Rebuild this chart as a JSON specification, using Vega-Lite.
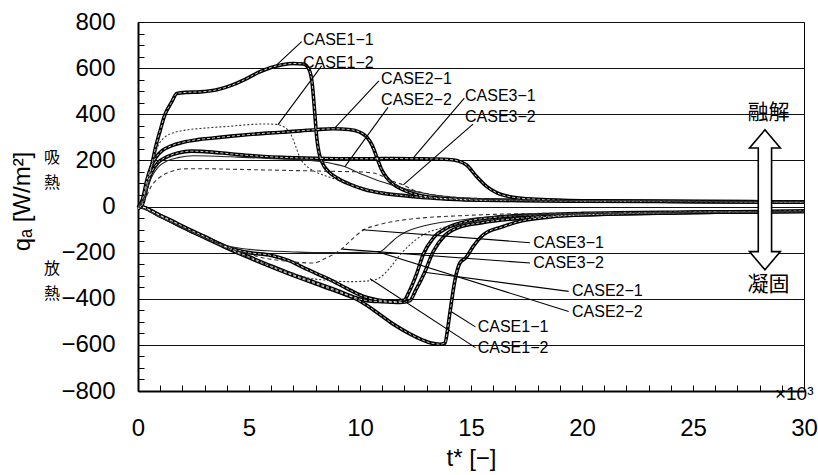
{
  "$schema": "https://vega.github.io/schema/vega-lite/v6.json",
  "width": 666,
  "height": 369,
  "autosize": "none",
  "padding": {"left": 138, "top": 22, "right": 14, "bottom": 84},
  "background": "white",
  "config": {"view": {"stroke": "black", "strokeWidth": 1}, "font": "Liberation Sans"},
  "datasets": {
    "curves": [
      {"case":"CASE1-1","phase":"melt","t":0,"q":-10},{"case":"CASE1-1","phase":"melt","t":0.2,"q":10},{"case":"CASE1-1","phase":"melt","t":0.4,"q":85},{"case":"CASE1-1","phase":"melt","t":0.6,"q":170},{"case":"CASE1-1","phase":"melt","t":0.8,"q":260},{"case":"CASE1-1","phase":"melt","t":1.0,"q":330},{"case":"CASE1-1","phase":"melt","t":1.2,"q":395},{"case":"CASE1-1","phase":"melt","t":1.5,"q":450},{"case":"CASE1-1","phase":"melt","t":1.75,"q":490},{"case":"CASE1-1","phase":"melt","t":2.2,"q":495},{"case":"CASE1-1","phase":"melt","t":2.8,"q":497},{"case":"CASE1-1","phase":"melt","t":3.5,"q":505},{"case":"CASE1-1","phase":"melt","t":4.2,"q":525},{"case":"CASE1-1","phase":"melt","t":4.8,"q":550},{"case":"CASE1-1","phase":"melt","t":5.4,"q":580},{"case":"CASE1-1","phase":"melt","t":6.0,"q":603},{"case":"CASE1-1","phase":"melt","t":6.5,"q":615},{"case":"CASE1-1","phase":"melt","t":7.0,"q":620},{"case":"CASE1-1","phase":"melt","t":7.45,"q":618},{"case":"CASE1-1","phase":"melt","t":7.7,"q":595},{"case":"CASE1-1","phase":"melt","t":7.85,"q":530},{"case":"CASE1-1","phase":"melt","t":7.95,"q":420},{"case":"CASE1-1","phase":"melt","t":8.05,"q":300},{"case":"CASE1-1","phase":"melt","t":8.15,"q":235},{"case":"CASE1-1","phase":"melt","t":8.3,"q":190},{"case":"CASE1-1","phase":"melt","t":8.6,"q":150},{"case":"CASE1-1","phase":"melt","t":9.0,"q":122},{"case":"CASE1-1","phase":"melt","t":9.5,"q":98},{"case":"CASE1-1","phase":"melt","t":10.2,"q":74},{"case":"CASE1-1","phase":"melt","t":11,"q":58},{"case":"CASE1-1","phase":"melt","t":12,"q":47},{"case":"CASE1-1","phase":"melt","t":13,"q":38},{"case":"CASE1-1","phase":"melt","t":14,"q":32},{"case":"CASE1-1","phase":"melt","t":15,"q":28},{"case":"CASE1-1","phase":"melt","t":17,"q":26},{"case":"CASE1-1","phase":"melt","t":20,"q":23},{"case":"CASE1-1","phase":"melt","t":25,"q":21},{"case":"CASE1-1","phase":"melt","t":30,"q":19},

      {"case":"CASE1-2","phase":"melt","t":0,"q":0},{"case":"CASE1-2","phase":"melt","t":0.3,"q":40},{"case":"CASE1-2","phase":"melt","t":0.5,"q":120},{"case":"CASE1-2","phase":"melt","t":0.7,"q":205},{"case":"CASE1-2","phase":"melt","t":0.9,"q":262},{"case":"CASE1-2","phase":"melt","t":1.2,"q":300},{"case":"CASE1-2","phase":"melt","t":1.6,"q":320},{"case":"CASE1-2","phase":"melt","t":2.2,"q":332},{"case":"CASE1-2","phase":"melt","t":3,"q":340},{"case":"CASE1-2","phase":"melt","t":4,"q":347},{"case":"CASE1-2","phase":"melt","t":5,"q":355},{"case":"CASE1-2","phase":"melt","t":5.6,"q":358},{"case":"CASE1-2","phase":"melt","t":6.2,"q":356},{"case":"CASE1-2","phase":"melt","t":6.6,"q":344},{"case":"CASE1-2","phase":"melt","t":6.9,"q":310},{"case":"CASE1-2","phase":"melt","t":7.1,"q":262},{"case":"CASE1-2","phase":"melt","t":7.3,"q":210},{"case":"CASE1-2","phase":"melt","t":7.6,"q":175},{"case":"CASE1-2","phase":"melt","t":8,"q":150},{"case":"CASE1-2","phase":"melt","t":8.6,"q":128},{"case":"CASE1-2","phase":"melt","t":9.4,"q":103},{"case":"CASE1-2","phase":"melt","t":10.2,"q":80},{"case":"CASE1-2","phase":"melt","t":11,"q":62},{"case":"CASE1-2","phase":"melt","t":12,"q":48},{"case":"CASE1-2","phase":"melt","t":13,"q":38},{"case":"CASE1-2","phase":"melt","t":14,"q":32},{"case":"CASE1-2","phase":"melt","t":16,"q":27},{"case":"CASE1-2","phase":"melt","t":20,"q":23},{"case":"CASE1-2","phase":"melt","t":25,"q":21},{"case":"CASE1-2","phase":"melt","t":30,"q":20},

      {"case":"CASE2-1","phase":"melt","t":0,"q":-5},{"case":"CASE2-1","phase":"melt","t":0.2,"q":30},{"case":"CASE2-1","phase":"melt","t":0.4,"q":115},{"case":"CASE2-1","phase":"melt","t":0.6,"q":175},{"case":"CASE2-1","phase":"melt","t":0.8,"q":212},{"case":"CASE2-1","phase":"melt","t":1.1,"q":243},{"case":"CASE2-1","phase":"melt","t":1.5,"q":263},{"case":"CASE2-1","phase":"melt","t":2,"q":278},{"case":"CASE2-1","phase":"melt","t":2.7,"q":290},{"case":"CASE2-1","phase":"melt","t":3.4,"q":297},{"case":"CASE2-1","phase":"melt","t":4.2,"q":305},{"case":"CASE2-1","phase":"melt","t":5,"q":312},{"case":"CASE2-1","phase":"melt","t":5.8,"q":318},{"case":"CASE2-1","phase":"melt","t":6.5,"q":322},{"case":"CASE2-1","phase":"melt","t":7.3,"q":328},{"case":"CASE2-1","phase":"melt","t":8,"q":333},{"case":"CASE2-1","phase":"melt","t":8.8,"q":337},{"case":"CASE2-1","phase":"melt","t":9.5,"q":334},{"case":"CASE2-1","phase":"melt","t":10,"q":322},{"case":"CASE2-1","phase":"melt","t":10.3,"q":302},{"case":"CASE2-1","phase":"melt","t":10.55,"q":265},{"case":"CASE2-1","phase":"melt","t":10.75,"q":215},{"case":"CASE2-1","phase":"melt","t":10.95,"q":165},{"case":"CASE2-1","phase":"melt","t":11.2,"q":125},{"case":"CASE2-1","phase":"melt","t":11.6,"q":90},{"case":"CASE2-1","phase":"melt","t":12,"q":70},{"case":"CASE2-1","phase":"melt","t":12.6,"q":50},{"case":"CASE2-1","phase":"melt","t":13.4,"q":38},{"case":"CASE2-1","phase":"melt","t":14.5,"q":32},{"case":"CASE2-1","phase":"melt","t":16,"q":28},{"case":"CASE2-1","phase":"melt","t":20,"q":24},{"case":"CASE2-1","phase":"melt","t":25,"q":22},{"case":"CASE2-1","phase":"melt","t":30,"q":20},

      {"case":"CASE2-2","phase":"melt","t":0,"q":0},{"case":"CASE2-2","phase":"melt","t":0.3,"q":45},{"case":"CASE2-2","phase":"melt","t":0.6,"q":125},{"case":"CASE2-2","phase":"melt","t":0.9,"q":170},{"case":"CASE2-2","phase":"melt","t":1.3,"q":197},{"case":"CASE2-2","phase":"melt","t":1.8,"q":212},{"case":"CASE2-2","phase":"melt","t":2.5,"q":220},{"case":"CASE2-2","phase":"melt","t":3.5,"q":218},{"case":"CASE2-2","phase":"melt","t":4.5,"q":214},{"case":"CASE2-2","phase":"melt","t":5.5,"q":210},{"case":"CASE2-2","phase":"melt","t":6.5,"q":206},{"case":"CASE2-2","phase":"melt","t":7.5,"q":202},{"case":"CASE2-2","phase":"melt","t":8.2,"q":195},{"case":"CASE2-2","phase":"melt","t":8.8,"q":185},{"case":"CASE2-2","phase":"melt","t":9.3,"q":173},{"case":"CASE2-2","phase":"melt","t":9.8,"q":152},{"case":"CASE2-2","phase":"melt","t":10.2,"q":135},{"case":"CASE2-2","phase":"melt","t":10.8,"q":113},{"case":"CASE2-2","phase":"melt","t":11.5,"q":92},{"case":"CASE2-2","phase":"melt","t":12.2,"q":72},{"case":"CASE2-2","phase":"melt","t":13,"q":55},{"case":"CASE2-2","phase":"melt","t":14,"q":42},{"case":"CASE2-2","phase":"melt","t":15,"q":34},{"case":"CASE2-2","phase":"melt","t":17,"q":28},{"case":"CASE2-2","phase":"melt","t":20,"q":25},{"case":"CASE2-2","phase":"melt","t":25,"q":23},{"case":"CASE2-2","phase":"melt","t":30,"q":21},

      {"case":"CASE3-1","phase":"melt","t":0,"q":-5},{"case":"CASE3-1","phase":"melt","t":0.2,"q":20},{"case":"CASE3-1","phase":"melt","t":0.4,"q":90},{"case":"CASE3-1","phase":"melt","t":0.6,"q":145},{"case":"CASE3-1","phase":"melt","t":0.9,"q":190},{"case":"CASE3-1","phase":"melt","t":1.3,"q":215},{"case":"CASE3-1","phase":"melt","t":1.8,"q":232},{"case":"CASE3-1","phase":"melt","t":2.4,"q":240},{"case":"CASE3-1","phase":"melt","t":3,"q":238},{"case":"CASE3-1","phase":"melt","t":3.8,"q":232},{"case":"CASE3-1","phase":"melt","t":4.5,"q":225},{"case":"CASE3-1","phase":"melt","t":5.5,"q":218},{"case":"CASE3-1","phase":"melt","t":6.5,"q":213},{"case":"CASE3-1","phase":"melt","t":7.5,"q":210},{"case":"CASE3-1","phase":"melt","t":8.5,"q":208},{"case":"CASE3-1","phase":"melt","t":9.5,"q":207},{"case":"CASE3-1","phase":"melt","t":10.5,"q":207},{"case":"CASE3-1","phase":"melt","t":11.5,"q":208},{"case":"CASE3-1","phase":"melt","t":12.5,"q":207},{"case":"CASE3-1","phase":"melt","t":13.3,"q":206},{"case":"CASE3-1","phase":"melt","t":14,"q":204},{"case":"CASE3-1","phase":"melt","t":14.4,"q":198},{"case":"CASE3-1","phase":"melt","t":14.8,"q":180},{"case":"CASE3-1","phase":"melt","t":15.25,"q":130},{"case":"CASE3-1","phase":"melt","t":15.7,"q":87},{"case":"CASE3-1","phase":"melt","t":16.15,"q":60},{"case":"CASE3-1","phase":"melt","t":16.9,"q":40},{"case":"CASE3-1","phase":"melt","t":18,"q":31},{"case":"CASE3-1","phase":"melt","t":20,"q":25},{"case":"CASE3-1","phase":"melt","t":25,"q":22},{"case":"CASE3-1","phase":"melt","t":30,"q":20},

      {"case":"CASE3-2","phase":"melt","t":0,"q":0},{"case":"CASE3-2","phase":"melt","t":0.3,"q":30},{"case":"CASE3-2","phase":"melt","t":0.6,"q":88},{"case":"CASE3-2","phase":"melt","t":1,"q":128},{"case":"CASE3-2","phase":"melt","t":1.5,"q":152},{"case":"CASE3-2","phase":"melt","t":2,"q":163},{"case":"CASE3-2","phase":"melt","t":3,"q":164},{"case":"CASE3-2","phase":"melt","t":4,"q":162},{"case":"CASE3-2","phase":"melt","t":5,"q":160},{"case":"CASE3-2","phase":"melt","t":6,"q":158},{"case":"CASE3-2","phase":"melt","t":7,"q":156},{"case":"CASE3-2","phase":"melt","t":8,"q":154},{"case":"CASE3-2","phase":"melt","t":9,"q":152},{"case":"CASE3-2","phase":"melt","t":10,"q":150},{"case":"CASE3-2","phase":"melt","t":10.6,"q":145},{"case":"CASE3-2","phase":"melt","t":11,"q":132},{"case":"CASE3-2","phase":"melt","t":11.4,"q":112},{"case":"CASE3-2","phase":"melt","t":11.9,"q":95},{"case":"CASE3-2","phase":"melt","t":12.4,"q":72},{"case":"CASE3-2","phase":"melt","t":13,"q":56},{"case":"CASE3-2","phase":"melt","t":14,"q":43},{"case":"CASE3-2","phase":"melt","t":15.5,"q":34},{"case":"CASE3-2","phase":"melt","t":18,"q":28},{"case":"CASE3-2","phase":"melt","t":22,"q":24},{"case":"CASE3-2","phase":"melt","t":30,"q":22},

      {"case":"CASE1-1","phase":"freeze","t":0,"q":0},{"case":"CASE1-1","phase":"freeze","t":0.3,"q":-5},{"case":"CASE1-1","phase":"freeze","t":0.6,"q":-20},{"case":"CASE1-1","phase":"freeze","t":1,"q":-40},{"case":"CASE1-1","phase":"freeze","t":1.5,"q":-65},{"case":"CASE1-1","phase":"freeze","t":2,"q":-90},{"case":"CASE1-1","phase":"freeze","t":3,"q":-135},{"case":"CASE1-1","phase":"freeze","t":4,"q":-180},{"case":"CASE1-1","phase":"freeze","t":5,"q":-222},{"case":"CASE1-1","phase":"freeze","t":6,"q":-262},{"case":"CASE1-1","phase":"freeze","t":7,"q":-300},{"case":"CASE1-1","phase":"freeze","t":8,"q":-335},{"case":"CASE1-1","phase":"freeze","t":9,"q":-370},{"case":"CASE1-1","phase":"freeze","t":9.8,"q":-400},{"case":"CASE1-1","phase":"freeze","t":10.3,"q":-428},{"case":"CASE1-1","phase":"freeze","t":10.8,"q":-462},{"case":"CASE1-1","phase":"freeze","t":11.5,"q":-510},{"case":"CASE1-1","phase":"freeze","t":12.2,"q":-550},{"case":"CASE1-1","phase":"freeze","t":12.8,"q":-578},{"case":"CASE1-1","phase":"freeze","t":13.2,"q":-592},{"case":"CASE1-1","phase":"freeze","t":13.6,"q":-597},{"case":"CASE1-1","phase":"freeze","t":13.83,"q":-592},{"case":"CASE1-1","phase":"freeze","t":13.95,"q":-530},{"case":"CASE1-1","phase":"freeze","t":14.05,"q":-461},{"case":"CASE1-1","phase":"freeze","t":14.28,"q":-318},{"case":"CASE1-1","phase":"freeze","t":14.5,"q":-245},{"case":"CASE1-1","phase":"freeze","t":14.77,"q":-222},{"case":"CASE1-1","phase":"freeze","t":15.1,"q":-173},{"case":"CASE1-1","phase":"freeze","t":15.55,"q":-123},{"case":"CASE1-1","phase":"freeze","t":16.45,"q":-87},{"case":"CASE1-1","phase":"freeze","t":17.3,"q":-62},{"case":"CASE1-1","phase":"freeze","t":18.5,"q":-46},{"case":"CASE1-1","phase":"freeze","t":20,"q":-36},{"case":"CASE1-1","phase":"freeze","t":25,"q":-26},{"case":"CASE1-1","phase":"freeze","t":30,"q":-21},

      {"case":"CASE1-2","phase":"freeze","t":0,"q":0},{"case":"CASE1-2","phase":"freeze","t":1,"q":-44},{"case":"CASE1-2","phase":"freeze","t":2,"q":-92},{"case":"CASE1-2","phase":"freeze","t":3,"q":-138},{"case":"CASE1-2","phase":"freeze","t":4,"q":-182},{"case":"CASE1-2","phase":"freeze","t":5,"q":-222},{"case":"CASE1-2","phase":"freeze","t":6,"q":-258},{"case":"CASE1-2","phase":"freeze","t":7,"q":-290},{"case":"CASE1-2","phase":"freeze","t":7.6,"q":-308},{"case":"CASE1-2","phase":"freeze","t":8.5,"q":-320},{"case":"CASE1-2","phase":"freeze","t":9.5,"q":-326},{"case":"CASE1-2","phase":"freeze","t":10.45,"q":-322},{"case":"CASE1-2","phase":"freeze","t":10.9,"q":-308},{"case":"CASE1-2","phase":"freeze","t":11.35,"q":-266},{"case":"CASE1-2","phase":"freeze","t":11.8,"q":-210},{"case":"CASE1-2","phase":"freeze","t":12.25,"q":-166},{"case":"CASE1-2","phase":"freeze","t":12.84,"q":-123},{"case":"CASE1-2","phase":"freeze","t":13.6,"q":-95},{"case":"CASE1-2","phase":"freeze","t":14.5,"q":-76},{"case":"CASE1-2","phase":"freeze","t":15.5,"q":-62},{"case":"CASE1-2","phase":"freeze","t":17,"q":-50},{"case":"CASE1-2","phase":"freeze","t":19,"q":-40},{"case":"CASE1-2","phase":"freeze","t":22,"q":-32},{"case":"CASE1-2","phase":"freeze","t":26,"q":-26},{"case":"CASE1-2","phase":"freeze","t":30,"q":-23},

      {"case":"CASE2-1","phase":"freeze","t":0,"q":0},{"case":"CASE2-1","phase":"freeze","t":0.3,"q":-5},{"case":"CASE2-1","phase":"freeze","t":0.6,"q":-20},{"case":"CASE2-1","phase":"freeze","t":1,"q":-42},{"case":"CASE2-1","phase":"freeze","t":1.5,"q":-64},{"case":"CASE2-1","phase":"freeze","t":2,"q":-88},{"case":"CASE2-1","phase":"freeze","t":3,"q":-133},{"case":"CASE2-1","phase":"freeze","t":4,"q":-177},{"case":"CASE2-1","phase":"freeze","t":5,"q":-218},{"case":"CASE2-1","phase":"freeze","t":6,"q":-258},{"case":"CASE2-1","phase":"freeze","t":7,"q":-296},{"case":"CASE2-1","phase":"freeze","t":8,"q":-330},{"case":"CASE2-1","phase":"freeze","t":9,"q":-365},{"case":"CASE2-1","phase":"freeze","t":9.7,"q":-392},{"case":"CASE2-1","phase":"freeze","t":10.3,"q":-408},{"case":"CASE2-1","phase":"freeze","t":11,"q":-413},{"case":"CASE2-1","phase":"freeze","t":11.8,"q":-416},{"case":"CASE2-1","phase":"freeze","t":12.25,"q":-408},{"case":"CASE2-1","phase":"freeze","t":12.5,"q":-365},{"case":"CASE2-1","phase":"freeze","t":12.9,"q":-288},{"case":"CASE2-1","phase":"freeze","t":13.3,"q":-195},{"case":"CASE2-1","phase":"freeze","t":13.8,"q":-128},{"case":"CASE2-1","phase":"freeze","t":14.4,"q":-92},{"case":"CASE2-1","phase":"freeze","t":15.5,"q":-70},{"case":"CASE2-1","phase":"freeze","t":17.3,"q":-50},{"case":"CASE2-1","phase":"freeze","t":19,"q":-40},{"case":"CASE2-1","phase":"freeze","t":22,"q":-31},{"case":"CASE2-1","phase":"freeze","t":26,"q":-25},{"case":"CASE2-1","phase":"freeze","t":30,"q":-22},

      {"case":"CASE2-2","phase":"freeze","t":0,"q":0},{"case":"CASE2-2","phase":"freeze","t":0.5,"q":-20},{"case":"CASE2-2","phase":"freeze","t":1,"q":-45},{"case":"CASE2-2","phase":"freeze","t":2,"q":-90},{"case":"CASE2-2","phase":"freeze","t":3,"q":-135},{"case":"CASE2-2","phase":"freeze","t":4,"q":-170},{"case":"CASE2-2","phase":"freeze","t":5,"q":-186},{"case":"CASE2-2","phase":"freeze","t":6,"q":-193},{"case":"CASE2-2","phase":"freeze","t":7,"q":-197},{"case":"CASE2-2","phase":"freeze","t":8,"q":-200},{"case":"CASE2-2","phase":"freeze","t":9,"q":-200},{"case":"CASE2-2","phase":"freeze","t":10,"q":-199},{"case":"CASE2-2","phase":"freeze","t":10.9,"q":-195},{"case":"CASE2-2","phase":"freeze","t":11.3,"q":-165},{"case":"CASE2-2","phase":"freeze","t":11.65,"q":-135},{"case":"CASE2-2","phase":"freeze","t":12.1,"q":-108},{"case":"CASE2-2","phase":"freeze","t":12.57,"q":-92},{"case":"CASE2-2","phase":"freeze","t":13.2,"q":-77},{"case":"CASE2-2","phase":"freeze","t":13.9,"q":-66},{"case":"CASE2-2","phase":"freeze","t":14.8,"q":-55},{"case":"CASE2-2","phase":"freeze","t":15.86,"q":-45},{"case":"CASE2-2","phase":"freeze","t":17,"q":-39},{"case":"CASE2-2","phase":"freeze","t":20,"q":-31},{"case":"CASE2-2","phase":"freeze","t":25,"q":-25},{"case":"CASE2-2","phase":"freeze","t":30,"q":-22},

      {"case":"CASE3-1","phase":"freeze","t":0,"q":0},{"case":"CASE3-1","phase":"freeze","t":0.3,"q":-5},{"case":"CASE3-1","phase":"freeze","t":0.6,"q":-18},{"case":"CASE3-1","phase":"freeze","t":1,"q":-38},{"case":"CASE3-1","phase":"freeze","t":1.5,"q":-60},{"case":"CASE3-1","phase":"freeze","t":2,"q":-85},{"case":"CASE3-1","phase":"freeze","t":3,"q":-130},{"case":"CASE3-1","phase":"freeze","t":4,"q":-175},{"case":"CASE3-1","phase":"freeze","t":5,"q":-200},{"case":"CASE3-1","phase":"freeze","t":6,"q":-212},{"case":"CASE3-1","phase":"freeze","t":6.8,"q":-235},{"case":"CASE3-1","phase":"freeze","t":7.6,"q":-272},{"case":"CASE3-1","phase":"freeze","t":8.6,"q":-315},{"case":"CASE3-1","phase":"freeze","t":9.4,"q":-355},{"case":"CASE3-1","phase":"freeze","t":10.1,"q":-388},{"case":"CASE3-1","phase":"freeze","t":10.8,"q":-405},{"case":"CASE3-1","phase":"freeze","t":11.6,"q":-412},{"case":"CASE3-1","phase":"freeze","t":12,"q":-405},{"case":"CASE3-1","phase":"freeze","t":12.2,"q":-372},{"case":"CASE3-1","phase":"freeze","t":12.55,"q":-292},{"case":"CASE3-1","phase":"freeze","t":12.85,"q":-207},{"case":"CASE3-1","phase":"freeze","t":13.3,"q":-137},{"case":"CASE3-1","phase":"freeze","t":13.9,"q":-94},{"case":"CASE3-1","phase":"freeze","t":14.8,"q":-65},{"case":"CASE3-1","phase":"freeze","t":16.3,"q":-45},{"case":"CASE3-1","phase":"freeze","t":18,"q":-36},{"case":"CASE3-1","phase":"freeze","t":20,"q":-30},{"case":"CASE3-1","phase":"freeze","t":25,"q":-24},{"case":"CASE3-1","phase":"freeze","t":30,"q":-20},

      {"case":"CASE3-2","phase":"freeze","t":0,"q":0},{"case":"CASE3-2","phase":"freeze","t":0.5,"q":-20},{"case":"CASE3-2","phase":"freeze","t":1,"q":-45},{"case":"CASE3-2","phase":"freeze","t":2,"q":-90},{"case":"CASE3-2","phase":"freeze","t":3,"q":-135},{"case":"CASE3-2","phase":"freeze","t":4,"q":-178},{"case":"CASE3-2","phase":"freeze","t":5,"q":-205},{"case":"CASE3-2","phase":"freeze","t":5.6,"q":-222},{"case":"CASE3-2","phase":"freeze","t":6.5,"q":-235},{"case":"CASE3-2","phase":"freeze","t":7.3,"q":-243},{"case":"CASE3-2","phase":"freeze","t":7.9,"q":-245},{"case":"CASE3-2","phase":"freeze","t":8.5,"q":-222},{"case":"CASE3-2","phase":"freeze","t":9.2,"q":-182},{"case":"CASE3-2","phase":"freeze","t":9.55,"q":-150},{"case":"CASE3-2","phase":"freeze","t":10.1,"q":-105},{"case":"CASE3-2","phase":"freeze","t":10.8,"q":-80},{"case":"CASE3-2","phase":"freeze","t":11.7,"q":-62},{"case":"CASE3-2","phase":"freeze","t":13,"q":-48},{"case":"CASE3-2","phase":"freeze","t":14.5,"q":-40},{"case":"CASE3-2","phase":"freeze","t":16,"q":-34},{"case":"CASE3-2","phase":"freeze","t":18,"q":-30},{"case":"CASE3-2","phase":"freeze","t":22,"q":-26},{"case":"CASE3-2","phase":"freeze","t":30,"q":-22}
    ],
    "labels": [
      {"label":"CASE1−1","t":7.43,"q":723},{"label":"CASE1−2","t":7.43,"q":623},
      {"label":"CASE2−1","t":10.95,"q":554},{"label":"CASE2−2","t":10.95,"q":463},
      {"label":"CASE3−1","t":14.73,"q":480},{"label":"CASE3−2","t":14.73,"q":389},
      {"label":"CASE3−1","t":17.8,"q":-157},{"label":"CASE3−2","t":17.8,"q":-244},
      {"label":"CASE2−1","t":19.55,"q":-366},{"label":"CASE2−2","t":19.55,"q":-457},
      {"label":"CASE1−1","t":15.3,"q":-522},{"label":"CASE1−2","t":15.3,"q":-613}
    ],
    "leaders": [
      {"t":6.25,"q":614,"t2":7.37,"q2":715},
      {"t":6.3,"q":354,"t2":8.27,"q2":610},
      {"t":8.87,"q":341,"t2":10.85,"q2":545},
      {"t":9.32,"q":173,"t2":11.26,"q2":430},
      {"t":12.4,"q":211,"t2":14.7,"q2":470},
      {"t":11.95,"q":94,"t2":15.09,"q2":357},
      {"t":10.1,"q":-101,"t2":17.66,"q2":-157},
      {"t":9.2,"q":-185,"t2":17.66,"q2":-245},
      {"t":12.9,"q":-285,"t2":19.4,"q2":-368},
      {"t":10.75,"q":-195,"t2":19.4,"q2":-455},
      {"t":14.1,"q":-455,"t2":15.2,"q2":-522},
      {"t":10.45,"q":-313,"t2":15.2,"q2":-612}
    ],
    "notes": [
      {"text":"融解","t":28.4,"q":406},
      {"text":"凝固","t":28.4,"q":-340}
    ],
    "side": [
      {"text":"吸","t":-3.87,"q":209},
      {"text":"熱","t":-3.87,"q":101},
      {"text":"放","t":-3.87,"q":-273},
      {"text":"熱","t":-3.87,"q":-381}
    ],
    "arrow": [{"t":28.24,"q":29}],
    "mult": [{"text":"×10³","t":28.69,"q":-800}]
  },
  "encoding": {
    "x": {"field":"t","type":"quantitative","scale":{"domain":[0,30],"nice":false,"zero":false},
      "axis":{"values":[0,1,2,3,4,5,6,7,8,9,10,11,12,13,14,15,16,17,18,19,20,21,22,23,24,25,26,27,28,29,30],
        "labelExpr":"datum.value % 5 === 0 ? datum.label : ''",
        "tickSize":-6,
        "tickColor":"black","tickWidth":1,"domainColor":"black","domainWidth":2,"grid":false,
        "labelFont":"Liberation Sans","labelFontSize":24,"labelColor":"black","labelPadding":31,"labelFlush":false,
        "title":"t* [−]","titleFont":"Liberation Sans","titleFontSize":24,"titleFontWeight":"normal","titleColor":"black","titlePadding":6}},
    "y": {"field":"q","type":"quantitative","scale":{"domain":[-800,800],"nice":false,"zero":false},
      "axis":{"values":[-800,-750,-700,-650,-600,-550,-500,-450,-400,-350,-300,-250,-200,-150,-100,-50,0,50,100,150,200,250,300,350,400,450,500,550,600,650,700,750,800],
        "labelExpr":"datum.value % 200 === 0 ? datum.label : ''",
        "tickSize":-6,
        "tickColor":"black","tickWidth":1,"domainColor":"black","domainWidth":2,
        "grid":true,"gridColor":"#111","gridWidth":1.2,
        "gridOpacity":{"condition":{"test":"datum.value % 200 === 0","value":1},"value":0},
        "labelFont":"Liberation Sans","labelFontSize":24,"labelColor":"black","labelPadding":29,"labelFlush":false,
        "title":"qₐ [W/m²]","titleFont":"Liberation Sans","titleFontSize":24,"titleFontWeight":"normal","titleColor":"black",
        "titleAngle":-90,"titleX":-104,"titleY":179,"titleAlign":"center","titleBaseline":"bottom"}}
  },
  "layer": [
    {"data":{"name":"curves"},"transform":[{"filter":{"field":"case","oneOf":["CASE1-1","CASE2-1","CASE3-1"]}}],
     "mark":{"type":"line","color":"black","strokeWidth":3.6,"interpolate":"monotone"},
     "encoding":{"detail":[{"field":"case"},{"field":"phase"}]}},
    {"data":{"name":"curves"},"transform":[{"filter":{"field":"case","oneOf":["CASE1-1","CASE2-1","CASE3-1"]}}],
     "mark":{"type":"line","color":"white","strokeWidth":1,"strokeDash":[3,2],"opacity":0.8,"interpolate":"monotone"},
     "encoding":{"detail":[{"field":"case"},{"field":"phase"}]}},
    {"data":{"name":"curves"},"transform":[{"filter":{"field":"case","equal":"CASE2-2"}}],
     "mark":{"type":"line","color":"#222","strokeWidth":1.1,"interpolate":"monotone"},
     "encoding":{"detail":{"field":"phase"}}},
    {"data":{"name":"curves"},"transform":[{"filter":{"field":"case","equal":"CASE1-2"}}],
     "mark":{"type":"line","color":"#333","strokeWidth":1.1,"strokeDash":[2,2],"interpolate":"monotone"},
     "encoding":{"detail":{"field":"phase"}}},
    {"data":{"name":"curves"},"transform":[{"filter":{"field":"case","equal":"CASE3-2"}}],
     "mark":{"type":"line","color":"#333","strokeWidth":1.1,"strokeDash":[4,3],"interpolate":"monotone"},
     "encoding":{"detail":{"field":"phase"}}},
    {"data":{"name":"leaders"},
     "mark":{"type":"rule","color":"black","strokeWidth":1.1},
     "encoding":{"x2":{"field":"t2"},"y2":{"field":"q2"}}},
    {"data":{"name":"labels"},
     "mark":{"type":"text","align":"left","baseline":"middle","font":"Liberation Sans","fontSize":16,"color":"black"},
     "encoding":{"text":{"field":"label"}}},
    {"data":{"name":"arrow"},
     "mark":{"type":"point","shape":"M0,-1L0.22,-0.74L0.095,-0.74L0.095,0.74L0.22,0.74L0,1L-0.22,0.74L-0.095,0.74L-0.095,-0.74L-0.22,-0.74Z","size":19600,"filled":true,"fill":"white","stroke":"black","strokeWidth":1.6,"opacity":1}},
    {"data":{"name":"notes"},
     "mark":{"type":"text","align":"center","baseline":"middle","font":"Noto Sans CJK JP","fontSize":21,"color":"black"},
     "encoding":{"text":{"field":"text"}}},
    {"data":{"name":"side"},
     "mark":{"type":"text","align":"center","baseline":"middle","font":"Noto Sans CJK JP","fontSize":16,"color":"black"},
     "encoding":{"text":{"field":"text"}}},
    {"data":{"name":"mult"},
     "mark":{"type":"text","align":"left","baseline":"middle","font":"Liberation Sans","fontSize":19,"dy":3,"color":"black"},
     "encoding":{"text":{"field":"text"}}}
  ]
}
